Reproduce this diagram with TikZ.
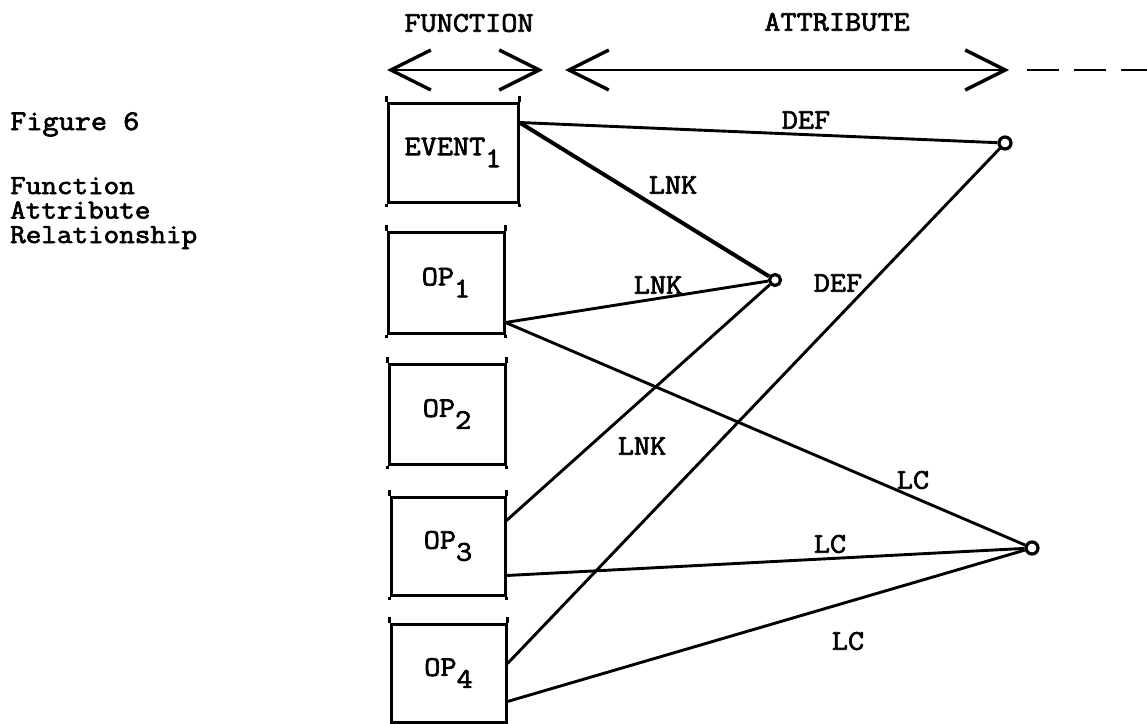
\documentclass[tikz,border=0pt]{standalone}
\usepackage{fontspec}
\newfontfamily\typew{Latin Modern Mono}[FakeStretch=1.1, FakeBold=2.4]
\usetikzlibrary{arrows.meta,calc}
% typewriter-style subscript: same size, dropped below the baseline
\newcommand\lowr[1]{\raisebox{-0.42em}{#1}}
\begin{document}
\begin{tikzpicture}[x=1pt,y=-1pt,
  every node/.style={font=\typew\fontsize{28.5}{24.5}\selectfont, inner sep=0pt},
  fnbox/.style={draw, line width=3pt, minimum width=116pt, minimum height=100pt},
  tick/.style={line width=3pt},
  link/.style={line width=2.9pt},
  heavy/.style={line width=4pt},
  attr/.style={draw, circle, line width=3.2pt, minimum size=12pt, fill=white},
  span/.style={line width=2.8pt},
  barb/.tip={Straight Barb[length=40pt,width=40pt,line width=3.4pt]},
  lbl/.style={anchor=center},
  side/.style={anchor=base west, align=left},
]
\useasboundingbox (0,0) rectangle (1147,723);

% caption at the left
\node[side] (fig) at (10,130) {Figure 6};
\node[side, anchor=north west, font=\typew\fontsize{27.5}{24.5}\selectfont] (cap) at (10,177) {Function\\Attribute\\Relationship};

% column headings and their extent arrows
\node[lbl] (hf) at (469,23) {FUNCTION};
\node[lbl] (ha) at (837,22) {ATTRIBUTE};
\coordinate (fl) at (387,70);
\coordinate (fr) at (543,70);
\coordinate (al) at (565,70);
\coordinate (ar) at (1009,70);
\coordinate (dl) at (1027,70);
\coordinate (dr) at (1147,70);
\draw[span, barb-barb] (fl) -- (fr);
\draw[span, barb-barb] (al) -- (ar);
\draw[span, dash pattern=on 32pt off 15pt] (dl) -- (dr);

% function boxes
\node[fnbox, minimum width=130pt, minimum height=99pt] (ev) at (453,152.5) {EVENT\lowr{1}};
\node[fnbox, minimum height=101pt] (op1) at (446,282.5) {OP\lowr{1}};
\node[fnbox, minimum height=100pt] (op2) at (447,414) {OP\lowr{2}};
\node[fnbox, minimum width=114pt, minimum height=98pt] (op3) at (448,546) {OP\lowr{3}};
\node[fnbox, minimum width=115pt, minimum height=98pt] (op4) at (448.5,673) {OP\lowr{4}};

% small ticks standing above the top corners
\foreach \b in {ev,op1,op2,op3,op4}{
  \draw[tick] (\b.north west) -- ++(0,-6);
  \draw[tick] (\b.north east) -- ++(0,-6);
  \draw[tick] (\b.south west) -- ++(0,3);
  \draw[tick] (\b.south east) -- ++(0,3);
}

% attribute points
\node[attr] (a1) at (1005,143) {};
\node[attr, minimum size=11pt] (a2) at (775,280) {};
\node[attr] (a3) at (1032,548) {};

% connection points on the box sides
\coordinate (ev-a) at ($(ev.north east)+(0,21)$);
\coordinate (op1-a) at ($(op1.north east)+(0,92)$);
\coordinate (op3-a) at ($(op3.north east)+(0,25)$);
\coordinate (op3-b) at ($(op3.north east)+(0,80)$);
\coordinate (op4-a) at ($(op4.north east)+(0,41)$);
\coordinate (op4-b) at ($(op4.north east)+(0,79)$);

% relationships
\draw[link] (ev-a) -- (a1);
\draw[heavy] (ev-a) -- (a2);
\draw[link] (op1-a) -- (a2);
\draw[link] (op1-a) -- (a3);
\draw[link] (op3-a) -- (a2);
\draw[link] (op3-b) -- (a3);
\draw[link] (op4-a) -- (a1);
\draw[link] (op4-b) -- (a3);

% relationship labels
\node[lbl] (l1) at (806,120) {DEF};
\node[lbl] (l2) at (673,185) {LNK};
\node[lbl] (l3) at (658,285) {LNK};
\node[lbl] (l4) at (838,283) {DEF};
\node[lbl] (l5) at (642,446) {LNK};
\node[lbl] (l6) at (913,480) {LC};
\node[lbl] (l7) at (830,544) {LC};
\node[lbl] (l8) at (848,641) {LC};
\end{tikzpicture}
\end{document}
